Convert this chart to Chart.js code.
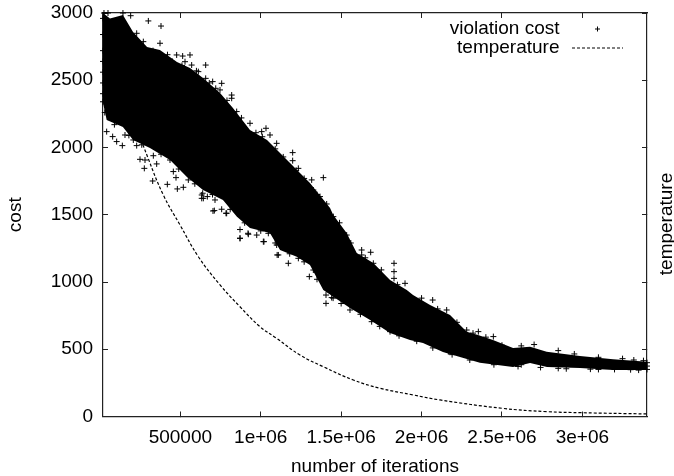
<!DOCTYPE html>
<html>
<head>
<meta charset="utf-8">
<script src="https://cdn.jsdelivr.net/npm/chart.js@4"></script>
<style>
body { margin: 0; background: #fff; }
canvas { display: block; }
</style>
</head>
<body>
<canvas id="canv" width="674" height="476"></canvas>
<script>
var xTicks = [500000, 1000000, 1500000, 2000000, 2500000, 3000000];
var xTickLabels = ["500000", "1e+06", "1.5e+06", "2e+06", "2.5e+06", "3e+06"];
var yTicks = [0, 500, 1000, 1500, 2000, 2500, 3000];
var yTickLabels = ["0", "500", "1000", "1500", "2000", "2500", "3000"];
var seriesNames = ["violation cost", "temperature"];

// the cost points overlap into a solid mass, so the mass is read as its outline
var topIter = [19000, 62500, 143000, 206000, 293000, 373000, 479000, 560000, 641000, 747000, 827000, 933000, 1039000, 1182000, 1306000, 1431000, 1451000, 1534000, 1597000, 1700000, 1804000, 1908000, 1947000, 2053000, 2177000, 2281000, 2351000, 2444000, 2569000, 2675000, 2778000, 2985000, 3191000, 3402000];
var topCost = [3000, 2960, 2985, 2859, 2747, 2725, 2636, 2591, 2517, 2405, 2294, 2130, 2056, 1885, 1736, 1550, 1498, 1364, 1216, 1141, 1015, 941, 903, 829, 755, 631, 606, 569, 509, 519, 482, 450, 425, 407];
var lowIter = [19000, 42000, 143000, 206000, 311000, 436000, 541000, 641000, 765000, 852000, 933000, 1057000, 1120000, 1224000, 1306000, 1389000, 1555000, 1680000, 1804000, 1928000, 2009000, 2133000, 2239000, 2363000, 2569000, 2675000, 2780000, 2985000, 3191000, 3402000];
var lowCost = [2331, 2204, 2152, 2056, 1996, 1907, 1781, 1684, 1610, 1486, 1401, 1364, 1238, 1188, 1126, 941, 807, 717, 621, 569, 546, 480, 442, 400, 368, 398, 368, 360, 346, 346];

// single crosses that stick out of the mass
var strayIter = [300900, 379700, 373500, 191000, 228400, 269800, 477100, 514400, 560000, 529000, 570400, 657500, 612000, 657500, 701000, 757000, 746600, 819200, 819200, 850300, 933200, 1032600, 1005700, 1057600, 1099000, 1198500, 1198500, 1233800, 1389300, 1316700, 1327000, 1368500,
  41800, 79100, 104000, 139200, 155800, 207600, 228400, 249100, 280200, 276000, 332000, 352800, 327900, 419100, 435700, 456400, 473000, 481300, 518600, 549700, 638800, 643000, 667900, 711400, 757000, 784000, 715500,
  871000, 922800, 1016100, 954000, 1047200, 1109400, 1171600, 1233800, 1302200, 1327000, 1368500, 1405800, 1405800, 1441100, 1555000, 1689800,
  1451400, 1534400, 1627600, 1627600, 1683600, 1700200,
  1828800, 1828800, 1828800, 1897200, 2069200, 2156300, 2166700, 2353200, 2446500, 2280700, 1803900, 2032000,
  19000, 19000, 19000, 19000, 19000, 19000, 19000, 19000, 25000, 50000, 105000, 143000,
  2500000, 2620000, 2700000, 2850000, 2950000, 3100000, 3250000, 3320000, 3402000, 3402000, 3402000, 3380000, 2600000, 2740000, 2900000, 3050000, 3200000, 3350000,
  40000, 90000, 120000, 170000, 250000, 330000, 420000, 450000, 510000, 600000, 680000, 720000, 790000, 880000, 970000, 1010000, 1090000, 1140000, 1220000, 1270000, 1350000, 1410000, 1490000, 1560000, 1650000, 1750000, 1850000, 2000000, 2100000, 2220000, 2320000, 2400000,
  30000, 90000, 180000, 260000, 380000, 490000, 590000, 700000, 810000, 900000, 1000000, 1090000, 1180000, 1270000, 1350000, 1450000, 1500000, 1620000, 1740000, 1860000, 1970000, 2070000, 2190000, 2300000, 2450000, 2620000, 2850000, 3100000, 3300000,
  633000, 633000, 703000, 788000, 871000, 871000, 921000, 975000, 1020000, 1099000, 1102000];
var strayCost = [2941, 2903, 2775, 2980, 2849, 2787, 2688, 2680, 2688, 2638, 2613, 2613, 2564, 2514, 2490, 2477, 2428, 2390, 2366, 2267, 2180, 2143, 2118, 2093, 2031, 1962, 1902, 1845, 1776, 1759, 1684, 1635,
  2118, 2081, 2044, 2014, 2093, 2056, 2014, 1912, 1907, 1845, 1939, 1878, 1751, 1726, 1907, 1821, 1776, 1692, 1704, 1759, 1660, 1622, 1635, 1531, 1541, 1511, 1610,
  1325, 1355, 1300, 1424, 1362, 1201, 1139, 1176, 1040, 1089, 1077, 841, 903, 884, 792, 705,
  1486, 1349, 1238, 1201, 1221, 1139,
  1139, 1077, 1027, 990, 866, 792, 482, 631, 594, 643, 631, 569,
  2960, 2840, 2720, 2640, 2560, 2480, 2400, 2340, 3000, 3000, 2880, 3000,
  530, 525, 535, 490, 465, 440, 430, 420, 400, 375, 350, 415, 372, 365, 355, 352, 350, 345,
  2920, 2850, 2900, 2880, 2770, 2720, 2690, 2640, 2610, 2570, 2480, 2440, 2350, 2220, 2110, 2080, 1990, 1930, 1830, 1770, 1650, 1580, 1440, 1290, 1180, 1090, 980, 880, 800, 700, 620, 590,
  2260, 2170, 2090, 2020, 1950, 1840, 1730, 1650, 1540, 1440, 1380, 1290, 1210, 1150, 1020, 880, 840, 760, 670, 600, 560, 510, 460, 420, 385, 385, 358, 350, 348,
  1647, 1622, 1528, 1511, 1325, 1390, 1362, 1349, 1300, 1275, 1201];

var tempIter = [19000, 150000, 299000, 394000, 498000, 612000, 747000, 871000, 995000, 1099000, 1244000, 1389000, 1576000, 1742000, 1949000, 2115000, 2500000, 2778000, 3000000, 3402000];
var tempVal = [2900, 2400, 1922, 1647, 1424, 1188, 978, 816, 668, 581, 457, 370, 271, 210, 160, 123, 61, 36, 28, 19];

function zipPoints(xs, ys) {
  var pts = [];
  for (var i = 0; i < xs.length; i++) {
    pts.push({x: xs[i], y: ys[i]});
  }
  return pts;
}

function sampleCanvas(kind) {
  var c = document.createElement("canvas");
  c.width = 51;
  c.height = 7;
  var g = c.getContext("2d");
  g.strokeStyle = "#000";
  g.lineWidth = 1;
  if (kind == "cross") {
    g.beginPath();
    g.moveTo(23, 3.5);
    g.lineTo(28, 3.5);
    g.moveTo(25.5, 1);
    g.lineTo(25.5, 6);
    g.stroke();
  } else {
    g.setLineDash([3, 2]);
    g.beginPath();
    g.moveTo(0, 3.5);
    g.lineTo(51, 3.5);
    g.stroke();
  }
  return c;
}

function fixedTicks(values) {
  return function(scale) {
    scale.ticks = values.map(function(v) { return {value: v}; });
  };
}

var fontFamily = "'Liberation Sans', Arial, sans-serif";
var frameBorder = {color: "#222", width: 1.2};
var innerTicks = {drawOnChartArea: false, drawTicks: true, tickLength: -5, tickColor: "#222", tickWidth: 1};

// gnuplot puts the legend inside the frame, top right, with the sample after the text
var placeLegend = {
  id: "placeLegend",
  afterLayout: function(chart) {
    chart.legend.left = 626 - chart.legend.width;
    chart.legend.top = 19.5;
  }
};

// right axis title reads bottom to top, which the scale title can't do on the right
var rightTitle = {
  id: "rightTitle",
  afterDraw: function(chart) {
    var ctx = chart.ctx;
    ctx.save();
    ctx.translate(667, 224);
    ctx.rotate(-Math.PI / 2);
    ctx.font = "19px " + fontFamily;
    ctx.fillStyle = "#000";
    ctx.textAlign = "center";
    ctx.textBaseline = "middle";
    ctx.fillText(seriesNames[1], 0, 0);
    ctx.restore();
  }
};

new Chart(document.getElementById("canv"), {
  type: "line",
  data: {
    datasets: [
      {label: "cost top", data: zipPoints(topIter, topCost), backgroundColor: "#000", borderWidth: 0, pointRadius: 0, fill: "+1", clip: false},
      {label: "cost low", data: zipPoints(lowIter, lowCost), borderWidth: 0, pointRadius: 0, fill: false, clip: false},
      {label: seriesNames[0], data: zipPoints(strayIter, strayCost), showLine: false, pointStyle: "cross", pointRadius: 3, borderColor: "#000", borderWidth: 1, clip: false},
      {label: seriesNames[1], data: zipPoints(tempIter, tempVal), borderColor: "#000", borderWidth: 1.2, borderDash: [3, 2], pointRadius: 0, tension: 0.4, fill: false}
    ]
  },
  options: {
    responsive: false,
    animation: false,
    events: [],
    font: {family: fontFamily},
    plugins: {
      tooltip: {enabled: false},
      legend: {
        position: "chartArea",
        align: "start",
        rtl: true,
        labels: {
          usePointStyle: true,
          pointStyleWidth: 57,
          boxHeight: 7,
          padding: 0,
          color: "#000",
          font: {family: fontFamily, size: 19, lineHeight: 1},
          generateLabels: function() {
            return [
              {text: seriesNames[0], pointStyle: sampleCanvas("cross"), lineWidth: 0, hidden: false, fontColor: "#000"},
              {text: seriesNames[1], pointStyle: sampleCanvas("dash"), lineWidth: 0, hidden: false, fontColor: "#000"}
            ];
          }
        }
      }
    },
    scales: {
      x: {
        type: "linear",
        min: 19000,
        max: 3402000,
        afterBuildTicks: fixedTicks(xTicks),
        afterFit: function(s) { s.height = 59.5; s.paddingLeft = 0; s.paddingRight = 0; },
        border: frameBorder,
        grid: innerTicks,
        ticks: {
          autoSkip: false,
          maxRotation: 0,
          color: "#000",
          padding: 15,
          font: {family: fontFamily, size: 19},
          callback: function(v, i) { return xTickLabels[i]; }
        },
        title: {display: true, text: "number of iterations", color: "#000", font: {family: fontFamily, size: 19, lineHeight: 1}, padding: {top: 0, bottom: 0}}
      },
      x2: {
        type: "linear",
        position: "top",
        min: 19000,
        max: 3402000,
        afterBuildTicks: fixedTicks(xTicks),
        afterFit: function(s) { s.height = 13; s.paddingLeft = 0; s.paddingRight = 0; },
        border: frameBorder,
        grid: innerTicks,
        ticks: {display: false}
      },
      y: {
        min: 0,
        max: 3000,
        afterBuildTicks: fixedTicks(yTicks),
        afterFit: function(s) { s.width = 103; s.paddingTop = 0; s.paddingBottom = 0; },
        border: frameBorder,
        grid: innerTicks,
        ticks: {
          color: "#000",
          padding: 15,
          font: {family: fontFamily, size: 19},
          callback: function(v, i) { return yTickLabels[i]; }
        },
        title: {display: true, text: "cost", color: "#000", font: {family: fontFamily, size: 19, lineHeight: 1}, padding: {top: 6, bottom: 0}}
      },
      y2: {
        position: "right",
        min: 0,
        max: 3000,
        afterBuildTicks: fixedTicks(yTicks),
        afterFit: function(s) { s.width = 27; s.paddingTop = 0; s.paddingBottom = 0; },
        border: frameBorder,
        grid: innerTicks,
        ticks: {display: false}
      }
    }
  },
  plugins: [placeLegend, rightTitle]
});
</script>
</body>
</html>
